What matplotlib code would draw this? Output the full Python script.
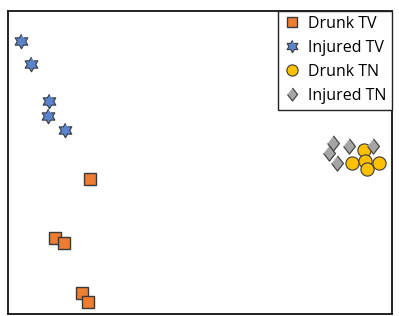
import matplotlib
matplotlib.use("Agg")
import matplotlib.pyplot as plt
import numpy as np

# values (arbitrary units, y grows downward)
drunk_tv_x = [90, 55, 64, 82, 88]
drunk_tv_y = [179, 238, 243, 293, 302]
injured_tv_x = [21, 31, 49, 48, 65]
injured_tv_y = [41, 64, 101, 116, 130]
drunk_tn_x = [364, 352, 365, 379, 367]
drunk_tn_y = [150, 163, 161, 163, 169]
injured_tn_x = [333, 349, 329, 337, 373]
injured_tn_y = [143, 146, 153, 163, 146]

# six-pointed star marker
ang = np.pi / 2 + np.arange(12) * np.pi / 6
rad = np.where(np.arange(12) % 2 == 0, 1.0, 0.577)
star6 = list(zip(rad * np.cos(ang), rad * np.sin(ang)))
diamond = [(0, 1), (0.78, 0), (0, -1), (-0.78, 0)]

plt.rcParams['font.family'] = ['Open Sans', 'DejaVu Sans']

fig = plt.figure(figsize=(3.99, 3.16), dpi=100)
ax = fig.add_axes([8 / 399, 2 / 316, 384 / 399, 303.5 / 316])

edge = '#3a3a3a'
ax.plot(drunk_tv_x, drunk_tv_y, ls='none', marker='s', ms=8.5, mfc='#ED7D31',
        mec=edge, mew=1.0, label='Drunk TV')
ax.plot(injured_tv_x, injured_tv_y, ls='none', marker=star6, ms=10.5, mfc='#5B84D0',
        mec=edge, mew=0.8, label='Injured TV')
ax.plot(drunk_tn_x, drunk_tn_y, ls='none', marker='o', ms=9.5, mfc='#FFC000',
        mec=edge, mew=0.8, label='Drunk TN')
ax.plot(injured_tn_x, injured_tn_y, ls='none', marker=diamond, ms=11, mfc='#A5A5A5',
        mec=edge, mew=0.8, label='Injured TN')

ax.set_xlim(8, 392)
ax.set_ylim(314, 10.5)
ax.set_xticks([])
ax.set_yticks([])
for s in ax.spines.values():
    s.set_linewidth(1.4)
    s.set_color('#222222')

leg = ax.legend(loc='upper right', bbox_to_anchor=(1.0, 1.0), borderaxespad=0,
                fontsize=11.5, fancybox=False, edgecolor='#222222', framealpha=1,
                handletextpad=0.5, labelspacing=0.5, handlelength=1.0,
                borderpad=0.35, markerscale=0.85)
leg.get_frame().set_linewidth(1.0)

fig.savefig("out.png", dpi=100)
